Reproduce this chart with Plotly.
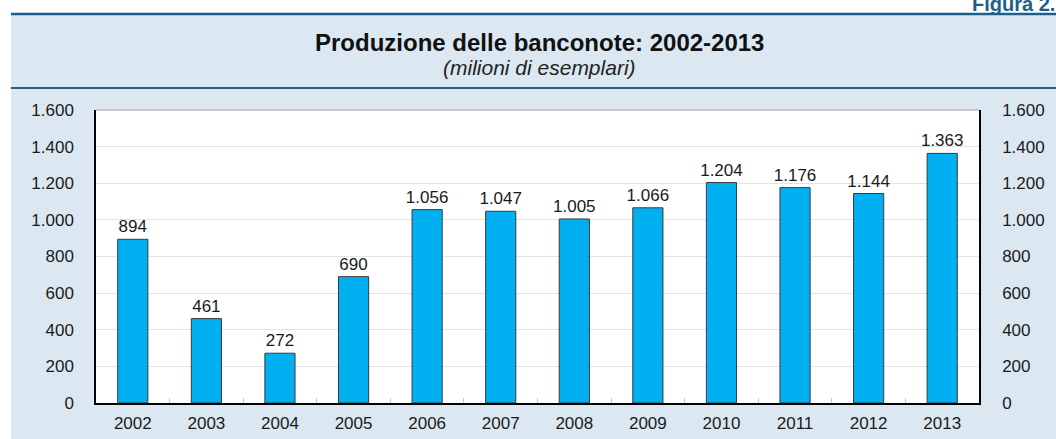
import plotly.graph_objects as go

years = ["2002", "2003", "2004", "2005", "2006", "2007", "2008", "2009", "2010", "2011", "2012", "2013"]
values = [894, 461, 272, 690, 1056, 1047, 1005, 1066, 1204, 1176, 1144, 1363]
y_ticks = [0, 200, 400, 600, 800, 1000, 1200, 1400, 1600]

title_text = "Produzione delle banconote: 2002-2013"
subtitle_text = "(milioni di esemplari)"
figure_label = "Figura 2."

W, H = 1056, 439
L, R, T, B = 96, 979, 110, 403
PW, PH = R - L, B - T

def px(x):
    return (x - L) / PW

def py(y):
    return (B - y) / PH

FONT = "Liberation Sans, Arial, Helvetica, sans-serif"
PANEL = "#dce8f1"
DARK = "#1d5f8a"
TXT = "#1a1a1a"

fig = go.Figure()
fig.add_trace(go.Bar(
    x=years, y=values,
    marker=dict(color="#00b0f0", line=dict(color="#3a3a3a", width=1)),
    text=values, texttemplate="%{y:,}", textposition="outside",
    constraintext="none",
    textfont=dict(size=17, color=TXT, family=FONT),
    cliponaxis=False, hoverinfo="skip",
))
fig.add_trace(go.Scatter(x=years, y=values, yaxis="y2", mode="markers",
                         marker=dict(opacity=0), hoverinfo="skip", showlegend=False))

shapes = [
    dict(type="rect", xref="paper", yref="paper", x0=px(0), x1=px(W), y0=py(14), y1=py(0),
         fillcolor="white", line=dict(width=0), layer="below"),
    dict(type="rect", xref="paper", yref="paper", x0=px(0), x1=px(11), y0=py(H), y1=py(0),
         fillcolor="white", line=dict(width=0), layer="below"),
    dict(type="line", xref="paper", yref="paper", x0=px(11), x1=px(W), y0=py(14), y1=py(14),
         line=dict(color=DARK, width=2.5)),
    dict(type="line", xref="paper", yref="paper", x0=px(11), x1=px(W), y0=py(88), y1=py(88),
         line=dict(color=DARK, width=2)),
    dict(type="line", xref="paper", yref="paper", x0=0, x1=1, y0=1, y1=1,
         line=dict(color="#bdbdbd", width=1.5)),
]

annotations = [
    dict(text="<b>" + title_text + "</b>", xref="paper", yref="paper",
         x=px(539), y=py(42), xanchor="center", yanchor="middle", showarrow=False,
         font=dict(size=24, color="#111111", family=FONT)),
    dict(text="<i>" + subtitle_text + "</i>", xref="paper", yref="paper",
         x=px(539), y=py(67), xanchor="center", yanchor="middle", showarrow=False,
         font=dict(size=21, color="#222222", family=FONT)),
    dict(text="<b>" + figure_label + "</b>", xref="paper", yref="paper",
         x=px(1057), y=py(3.5), xanchor="right", yanchor="middle", showarrow=False,
         font=dict(size=20, color=DARK, family=FONT)),
]

axis_font = dict(size=17, color=TXT, family=FONT)

fig.update_layout(
    template="none",
    width=W, height=H, autosize=False,
    margin=dict(l=L, r=W - R, t=T, b=H - B, pad=0, autoexpand=False),
    paper_bgcolor=PANEL, plot_bgcolor="white",
    separators=",.",
    showlegend=False,
    bargap=0.59,
    font=dict(family=FONT, size=17, color=TXT),
    xaxis=dict(type="category", range=[-0.5, len(years) - 0.5], showline=True,
               linecolor="black", linewidth=1.5,
               ticks="inside", tickson="boundaries", ticklen=5, tickcolor="#c8c8c8",
               tickwidth=1, showgrid=False, ticklabelstandoff=4, automargin=False,
               tickfont=axis_font),
    yaxis=dict(range=[0, 1600], tickvals=y_ticks, tickformat=",d", showline=True,
               linecolor="black", linewidth=1.5, showgrid=True, gridcolor="#e3e3e3",
               gridwidth=1, ticks="", ticklabelstandoff=17, zeroline=False,
               automargin=False, tickfont=axis_font),
    yaxis2=dict(range=[0, 1600], tickvals=y_ticks, tickformat=",d", overlaying="y",
                side="right", showline=True, linecolor="black", linewidth=1.5,
                showgrid=False, ticks="", ticklabelstandoff=18, zeroline=False,
                automargin=False, tickfont=axis_font),
    shapes=shapes,
    annotations=annotations,
)

fig.write_html("out.html", config={"displayModeBar": False},
               post_script="document.body.style.margin='0';document.body.style.overflow='hidden';")
